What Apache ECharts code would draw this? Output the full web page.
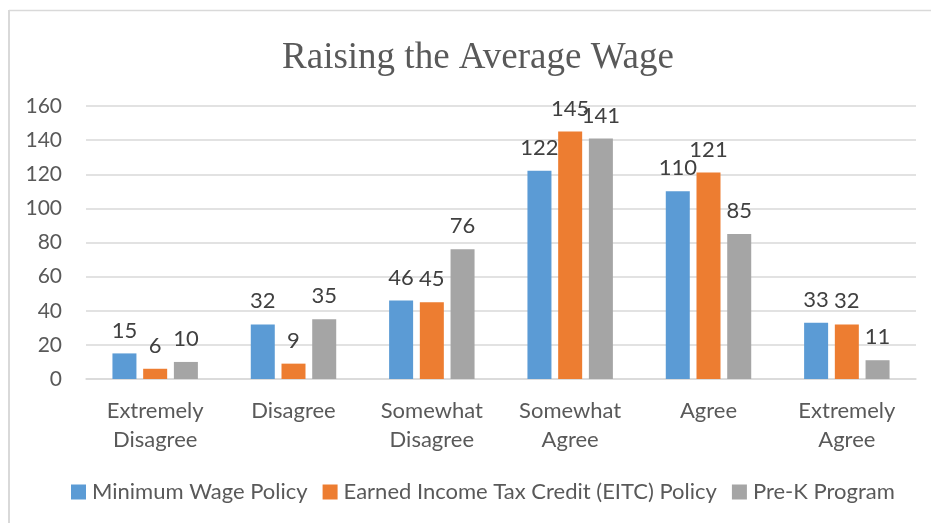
<!DOCTYPE html>
<html>
<head>
<meta charset="utf-8">
<style>
  html, body { margin: 0; padding: 0; background: #ffffff; }
  #chart { width: 931px; height: 523px; }
</style>
<script src="https://cdn.jsdelivr.net/npm/echarts@6/dist/echarts.min.js"></script>
</head>
<body>
<div id="chart"></div>
<script>
// Survey responses on raising the average wage
const categories = ['Extremely\nDisagree', 'Disagree', 'Somewhat\nDisagree', 'Somewhat\nAgree', 'Agree', 'Extremely\nAgree'];
const seriesNames = ['Minimum Wage Policy', 'Earned Income Tax Credit (EITC) Policy', 'Pre-K Program'];
const minimumWage = [15, 32, 46, 122, 110, 33];
const eitc = [6, 9, 45, 145, 121, 32];
const preK = [10, 35, 76, 141, 85, 11];
const yTicks = { min: 0, max: 160, interval: 20 };

const colors = ['#5B9BD5', '#ED7D31', '#A5A5A5'];
const uiFont = 'Lato, "Open Sans", sans-serif';

const chart = echarts.init(document.getElementById('chart'), null, { renderer: 'canvas' });

function barSeries(name, data, color) {
  return {
    name: name,
    type: 'bar',
    data: data,
    barWidth: 24,
    barGap: '28%',
    itemStyle: { color: color },
    label: {
      show: true,
      position: 'top',
      distance: 12,
      color: '#404040',
      fontFamily: uiFont,
      fontSize: 22
    }
  };
}

chart.setOption({
  animation: false,
  backgroundColor: '#ffffff',
  title: {
    text: 'Raising the Average Wage',
    left: 473,
    textAlign: 'center',
    top: 35,
    textStyle: {
      fontFamily: '"Liberation Serif", "Times New Roman", serif',
      fontWeight: 'normal',
      fontSize: 37,
      color: '#595959'
    }
  },
  graphic: [
    { type: 'line', shape: { x1: 9, y1: 10.5, x2: 931, y2: 10.5 }, style: { stroke: '#d9d9d9', lineWidth: 1.5 }, silent: true },
    { type: 'line', shape: { x1: 9, y1: 10, x2: 9, y2: 523 }, style: { stroke: '#d9d9d9', lineWidth: 2 }, silent: true }
  ],
  grid: { left: 86, right: 15, top: 106, bottom: 144, containLabel: false },
  legend: {
    bottom: 15,
    left: 66,
    itemWidth: 15,
    itemHeight: 15,
    itemGap: 15,
    icon: 'rect',
    textStyle: { fontFamily: uiFont, fontSize: 22, color: '#595959', padding: [0, 0, 0, 1] },
    data: seriesNames
  },
  xAxis: {
    type: 'category',
    data: categories,
    axisLine: { show: true, lineStyle: { color: '#d9d9d9', width: 1.5 } },
    axisTick: { show: false },
    axisLabel: {
      interval: 0,
      margin: 17,
      lineHeight: 29,
      fontFamily: uiFont,
      fontSize: 22,
      color: '#595959'
    }
  },
  yAxis: {
    type: 'value',
    min: yTicks.min,
    max: yTicks.max,
    interval: yTicks.interval,
    axisLine: { show: false },
    axisTick: { show: false },
    splitLine: { lineStyle: { color: '#d9d9d9', width: 1.5 } },
    axisLabel: {
      margin: 24,
      fontFamily: uiFont,
      fontSize: 21,
      color: '#595959'
    }
  },
  series: [
    barSeries(seriesNames[0], minimumWage, colors[0]),
    barSeries(seriesNames[1], eitc, colors[1]),
    barSeries(seriesNames[2], preK, colors[2])
  ]
});
</script>
</body>
</html>
